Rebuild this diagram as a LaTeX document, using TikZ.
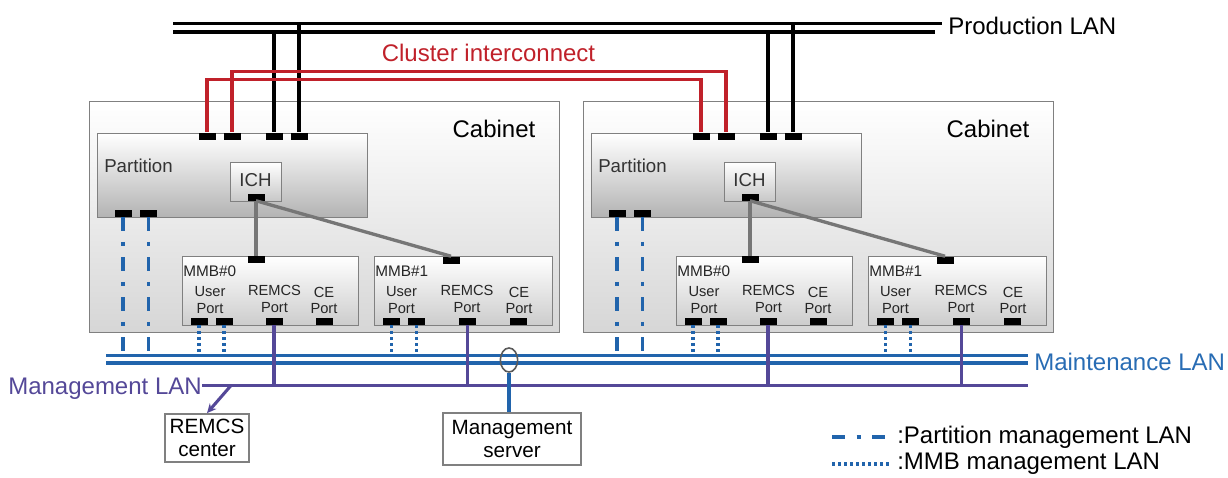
\documentclass[tikz,border=0pt]{standalone}
\usepackage{fontspec}
\setmainfont{Liberation Sans}
\usetikzlibrary{arrows.meta,shapes.geometric}
\definecolor{redc}{RGB}{192,33,42}
\definecolor{bluec}{RGB}{33,100,172}
\definecolor{bluet}{RGB}{40,108,180}
\definecolor{purc}{RGB}{84,72,152}
\definecolor{boxc}{RGB}{128,128,128}
\definecolor{conc}{RGB}{118,118,118}
\definecolor{ellc}{RGB}{90,90,90}
\begin{document}
\begin{tikzpicture}[x=0.75pt,y=-0.75pt,
  port/.style={fill=black,draw=none,inner sep=0pt,minimum width=12.75pt,minimum height=5.25pt},
  gbox/.style={draw=boxc,line width=0.9pt,inner sep=0pt,anchor=north west},
  cabbox/.style={gbox,top color=white,bottom color=black!16},
  partbox/.style={gbox,top color=white,bottom color=black!30},
  mmbbox/.style={gbox,top color=white,bottom color=black!20},
  ichbox/.style={gbox,top color=white,bottom color=black!22},
  endbox/.style={draw=boxc,line width=1.3pt,fill=white,inner sep=0pt,align=center,font=\fontsize{15.5}{17.5}\selectfont},
  biglab/.style={inner sep=0pt,font=\fontsize{18}{20}\selectfont},
  midlab/.style={inner sep=0pt,font=\fontsize{14}{16}\selectfont,text=black!80},
  mmblab/.style={inner sep=0pt,font=\fontsize{11.5}{13}\selectfont,text=black!85,anchor=west},
  smlab/.style={inner sep=0pt,align=center,font=\fontsize{11}{12.5}\selectfont,text=black!85},
  prod/.style={line width=2.4pt,black},
  redl/.style={line width=2.4pt,redc},
  gline/.style={line width=2.5pt,conc},
  maint/.style={line width=2.3pt,bluec},
  mgmt/.style={line width=2.3pt,purc},
  pmlan/.style={line width=2.6pt,bluec,dash pattern=on 10pt off 8.5pt on 3pt off 8.5pt},
  mmblan/.style={line width=2.6pt,bluec,dash pattern=on 2pt off 2.5pt}
]
\useasboundingbox (0,0) rectangle (1228,478);

% global reference coordinates
\coordinate (prodT0) at (173,23.5);
\coordinate (prodT1) at (942,23.5);
\coordinate (prodB0) at (173,32);
\coordinate (prodB1) at (935,32);
\coordinate (redA) at (0,79.5);
\coordinate (redB) at (0,71.5);
\coordinate (mt0) at (106,355.5);
\coordinate (mt1) at (1028,355.5);
\coordinate (mb0) at (106,363);
\coordinate (mb1) at (1028,363);
\coordinate (mg0) at (202,385.5);
\coordinate (mg1) at (1028,385.5);

\foreach \s/\d in {0/0,1/494}{
  \node[cabbox,minimum width=352.5pt,minimum height=173.25pt] (cab\s) at (89+\d,101) {};
  \node[biglab] (cablab\s) at (494+\d,129) {Cabinet};
  \node[partbox,minimum width=202.5pt,minimum height=63pt] (part\s) at (97+\d,133) {};
  \node[midlab,anchor=west] (partlab\s) at (104+\d,166) {Partition};
  \node[ichbox,minimum width=38.25pt,minimum height=29.25pt] (ich\s) at (230+\d,162) {};
  \node[midlab] (ichlab\s) at (255.5+\d,180) {ICH};
  \node[port] (pich\s) at (256+\d,197) {};
  \node[port] (pt\s-1) at (207+\d,136) {};
  \node[port] (pt\s-2) at (232+\d,136) {};
  \node[port] (pt\s-3) at (274+\d,136) {};
  \node[port] (pt\s-4) at (299+\d,136) {};
  \node[port] (pb\s-1) at (123+\d,213.5) {};
  \node[port] (pb\s-2) at (148.5+\d,213.5) {};
  % MMB#0
  \node[mmbbox,minimum width=132pt,minimum height=51.75pt] (mma\s) at (182+\d,256) {};
  \node[mmblab] (mmalab\s) at (183+\d,271) {MMB\#0};
  \node[port] (ma\s-t) at (256+\d,259.5) {};
  \node[smlab] (mau\s) at (210+\d,300) {User\\Port};
  \node[smlab] (mar\s) at (274.5+\d,299) {REMCS\\Port};
  \node[smlab] (mac\s) at (324+\d,300.5) {CE\\Port};
  \node[port] (ma\s-u1) at (199+\d,321.5) {};
  \node[port] (ma\s-u2) at (224+\d,321.5) {};
  \node[port] (ma\s-r) at (274+\d,321.5) {};
  \node[port] (ma\s-c) at (324.5+\d,321.5) {};
  % MMB#1
  \node[mmbbox,minimum width=133.5pt,minimum height=51.75pt] (mmb\s) at (374+\d,256) {};
  \node[mmblab] (mmblab\s) at (375+\d,271) {MMB\#1};
  \node[port] (mb\s-t) at (451+\d,260) {};
  \node[smlab] (mbu\s) at (401.5+\d,300) {User\\Port};
  \node[smlab] (mbr\s) at (467+\d,299) {REMCS\\Port};
  \node[smlab] (mbc\s) at (519+\d,300.5) {CE\\Port};
  \node[port] (mb\s-u1) at (391.5+\d,321.5) {};
  \node[port] (mb\s-u2) at (416.5+\d,321.5) {};
  \node[port] (mb\s-r) at (467.5+\d,321.5) {};
  \node[port] (mb\s-c) at (518+\d,321.5) {};
  % internal grey links
  \draw[gline] (pich\s.south) -- (pich\s.south |- ma\s-t.north);
  \draw[gline] (pich\s.south) -- (mb\s-t.north);
  % production LAN drops
  \draw[prod] (pt\s-3.north) -- (pt\s-3.north |- prodB0);
  \draw[prod] (pt\s-4.north) -- (pt\s-4.north |- prodT0);
  % partition management LAN
  \draw[pmlan] (pb\s-1.south) -- (pb\s-1.south |- mt0);
  \draw[pmlan] (pb\s-2.south) -- (pb\s-2.south |- mt0);
  % MMB management LAN
  \draw[mmblan] (ma\s-u1.south) -- (ma\s-u1.south |- mt0);
  \draw[mmblan] (ma\s-u2.south) -- (ma\s-u2.south |- mt0);
  \draw[mmblan] (mb\s-u1.south) -- (mb\s-u1.south |- mt0);
  \draw[mmblan] (mb\s-u2.south) -- (mb\s-u2.south |- mt0);
}

% Production LAN
\draw[prod] (prodT0) -- (prodT1);
\draw[prod] (prodB0) -- (prodB1);
\node[biglab,anchor=west] (prodlab) at (948,26) {Production LAN};

% Cluster interconnect
\draw[redl] (pt0-1.north) -- (pt0-1.north |- redA) -- (pt1-1.north |- redA) -- (pt1-1.north);
\draw[redl] (pt0-2.north) -- (pt0-2.north |- redB) -- (pt1-2.north |- redB) -- (pt1-2.north);
\node[biglab,text=redc] (clulab) at (488.5,53) {Cluster interconnect};

% Maintenance LAN
\draw[maint] (mt0) -- (mt1);
\draw[maint] (mb0) -- (mb1);
\node[biglab,anchor=west,text=bluet] (mtlab) at (1034,362) {Maintenance LAN};

% Management LAN
\foreach \s in {0,1}{
  \draw[mgmt] (ma\s-r.south) -- (ma\s-r.south |- mg0);
  \draw[mgmt] (mb\s-r.south) -- (mb\s-r.south |- mg0);
}
\draw[mgmt] (mg0) -- (mg1);
\node[biglab,anchor=east,text=purc] (mglab) at (202,389) {Management LAN};

% REMCS center
\node[endbox,minimum width=63pt,minimum height=36pt] (remcs) at (207,438) {REMCS\\center};
\coordinate (arrS) at (231,385.5);
\draw[mgmt,-{Stealth[length=7pt,width=6.5pt]}] (arrS) -- (remcs.north);

% Management server
\node[endbox,minimum width=103.5pt,minimum height=39pt] (msrv) at (512,439) {Management\\server};
\node[draw=ellc,ellipse,line width=1.2pt,inner sep=0pt,minimum width=13pt,minimum height=18pt] (tap) at (509,360) {};
\draw[line width=2.3pt,bluec] (tap.south) -- (tap.south |- msrv.north);

% Legend
\coordinate (lg1a) at (832,437);
\coordinate (lg1b) at (887,437);
\draw[pmlan] (lg1a) -- (lg1b);
\node[biglab,anchor=west] (lg1lab) at (897,437) {:Partition management LAN};
\coordinate (lg2a) at (832,464);
\coordinate (lg2b) at (891,464);
\draw[mmblan] (lg2a) -- (lg2b);
\node[biglab,anchor=west] (lg2lab) at (897,464) {:MMB management LAN};
\end{tikzpicture}
\end{document}
